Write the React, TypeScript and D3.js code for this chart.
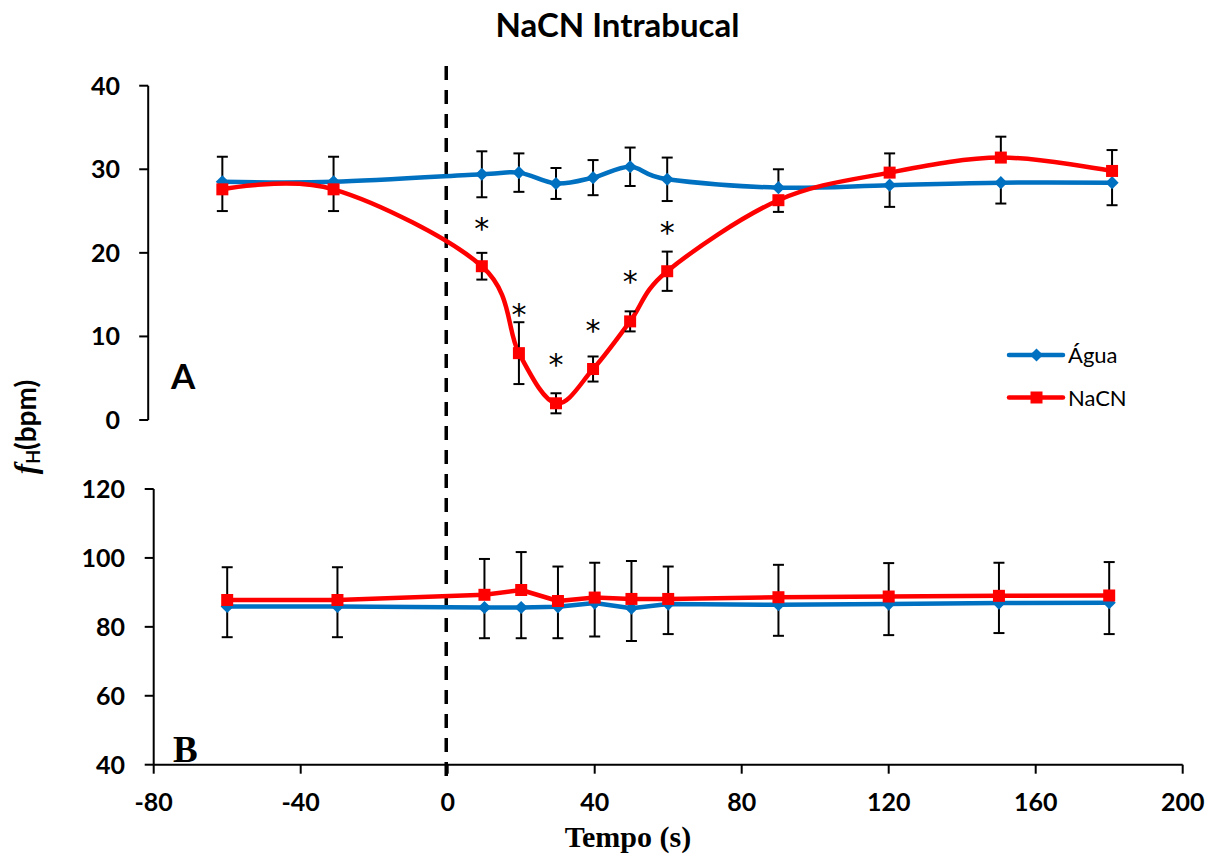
import React from "react";
import * as d3 from "d3";

// Sampling times (s) relative to the intrabuccal NaCN / water injection
const tempo = [-60, -30, 10, 20, 30, 40, 50, 60, 90, 120, 150, 180];

// Panel A: fH (bpm), mean and SE
const aguaA = [28.5, 28.5, 29.4, 29.6, 28.3, 29.0, 30.3, 28.8, 27.8, 28.1, 28.4, 28.4];
const aguaAErr = [3.0, 3.0, 2.75, 2.3, 1.85, 2.1, 2.3, 2.6, 2.2, 2.6, 2.5, 2.7];
const nacnA = [27.6, 27.6, 18.4, 8.0, 2.0, 6.1, 11.8, 17.8, 26.3, 29.6, 31.4, 29.8];
const nacnAErr = [2.6, 2.6, 1.6, 3.7, 1.2, 1.5, 1.2, 2.35, 1.4, 2.3, 2.5, 2.5];

// Significance marks (time, level in bpm) for panel A
const sigTempo = [10, 20, 30, 40, 50, 60];
const sigLevel = [23.7, 13.4, 7.4, 11.5, 17.3, 23.2];

// Panel B: fH (bpm), mean and SE
const aguaB = [85.9, 85.9, 85.6, 85.6, 85.8, 86.9, 85.4, 86.6, 86.4, 86.6, 86.9, 87.0];
const aguaBErr = [8.9, 8.9, 8.9, 8.9, 9.1, 9.7, 9.5, 8.7, 9.0, 9.0, 8.7, 9.1];
const nacnB = [87.8, 87.8, 89.3, 90.7, 87.5, 88.5, 88.1, 88.1, 88.6, 88.8, 89.0, 89.1];
const nacnBErr = [9.5, 9.5, 10.4, 11.0, 10.0, 10.1, 11.0, 9.4, 9.4, 9.7, 9.6, 9.7];

const xTicks = [-80, -40, 0, 40, 80, 120, 160, 200];
const yTicksA = [0, 10, 20, 30, 40];
const yTicksB = [40, 60, 80, 100, 120];

const BLUE = "#0070C0";
const RED = "#FF0000";
const SANS = "Lato, 'Open Sans', sans-serif";
const SERIF = "'Liberation Serif', 'DejaVu Serif', serif";

const xA = d3.scaleLinear().domain([-80, 200]).range([148.2, 1186.2]);
const xB = d3.scaleLinear().domain([-80, 200]).range([153.7, 1182.7]);
const yA = d3.scaleLinear().domain([0, 40]).range([420, 85.7]);
const yB = d3.scaleLinear().domain([40, 120]).range([764.7, 489]);

type Scale = d3.ScaleLinear<number, number>;

function SeriesLine({
  x, y, vals, color, smooth,
}: { x: Scale; y: Scale; vals: number[]; color: string; smooth: boolean }) {
  const pts: [number, number][] = tempo.map((t, i) => [x(t), y(vals[i])]);
  const line = d3
    .line()
    .curve(smooth ? d3.curveCardinal.tension(0) : d3.curveLinear)(pts) as string;
  return <path d={line} fill="none" stroke={color} strokeWidth={4.5} strokeLinejoin="round" />;
}

// Error bars; where a series' bar would overlap the other series' bar,
// only the half pointing away from the other series is drawn.
function ErrorBars({
  x, y, vals, errs, otherVals, otherErrs,
}: {
  x: Scale; y: Scale; vals: number[]; errs: number[]; otherVals: number[]; otherErrs: number[];
}) {
  return (
    <g stroke="#000" strokeWidth={2}>
      {tempo.map((t, i) => {
        const cx = x(t);
        const v = vals[i];
        const overlap = Math.abs(v - otherVals[i]) < errs[i] + otherErrs[i];
        const showUp = !overlap || v >= otherVals[i];
        const showDown = !overlap || v < otherVals[i];
        const yTop = y(v + errs[i]);
        const yBot = y(v - errs[i]);
        const yMid = y(v);
        return (
          <g key={i}>
            {showUp && (
              <>
                <line x1={cx} x2={cx} y1={yTop} y2={yMid} />
                <line x1={cx - 5.5} x2={cx + 5.5} y1={yTop} y2={yTop} />
              </>
            )}
            {showDown && (
              <>
                <line x1={cx} x2={cx} y1={yMid} y2={yBot} />
                <line x1={cx - 5.5} x2={cx + 5.5} y1={yBot} y2={yBot} />
              </>
            )}
          </g>
        );
      })}
    </g>
  );
}

function Markers({
  x, y, vals, color, shape,
}: { x: Scale; y: Scale; vals: number[]; color: string; shape: "diamond" | "square" }) {
  const sym = d3
    .symbol()
    .type(shape === "diamond" ? d3.symbolDiamond2 : d3.symbolSquare)
    .size(shape === "diamond" ? 110 : 144)() as string;
  return (
    <g fill={color}>
      {tempo.map((t, i) => (
        <path key={i} d={sym} transform={`translate(${x(t)},${y(vals[i])})`} />
      ))}
    </g>
  );
}

function YAxis({ x, y, ticks, labelX }: { x: number; y: Scale; ticks: number[]; labelX: number }) {
  const [lo, hi] = y.domain();
  return (
    <g>
      <line x1={x} x2={x} y1={y(lo)} y2={y(hi)} stroke="#000" strokeWidth={2} />
      {ticks.map((t) => (
        <g key={t}>
          <line x1={x - 9} x2={x} y1={y(t)} y2={y(t)} stroke="#000" strokeWidth={2} />
          <text
            x={labelX}
            y={y(t) + 9}
            textAnchor="end"
            fontFamily={SANS}
            fontWeight={700}
            fontSize={25}
            fill="#000"
          >
            {t}
          </text>
        </g>
      ))}
    </g>
  );
}

export default function App() {
  const zeroX = (xA(0) + xB(0)) / 2;
  const diamondLegend = d3.symbol().type(d3.symbolDiamond2).size(110)() as string;
  const squareLegend = d3.symbol().type(d3.symbolSquare).size(144)() as string;
  return (
    <svg
      width={1213}
      height={855}
      style={{ position: "absolute", left: 0, top: 0, background: "#fff" }}
    >
      <rect width={1213} height={855} fill="#fff" />

      {/* Title */}
      <text
        x={617.5}
        y={37}
        textAnchor="middle"
        fontFamily={SANS}
        fontWeight={700}
        fontSize={33}
        fill="#000"
      >
        NaCN Intrabucal
      </text>

      {/* Panel A */}
      <YAxis x={xA(-80)} y={yA} ticks={yTicksA} labelX={120} />
      <text x={171} y={389} fontFamily={SANS} fontWeight={700} fontSize={35} fill="#000">
        A
      </text>

      {/* Panel B */}
      <YAxis x={xB(-80)} y={yB} ticks={yTicksB} labelX={125} />
      <line x1={xB(-80)} x2={xB(200)} y1={yB(40)} y2={yB(40)} stroke="#000" strokeWidth={2} />
      {xTicks.map((t) => (
        <g key={t}>
          <line x1={xB(t)} x2={xB(t)} y1={yB(40)} y2={yB(40) + 9} stroke="#000" strokeWidth={2} />
          <text
            x={xB(t)}
            y={811}
            textAnchor="middle"
            fontFamily={SANS}
            fontWeight={700}
            fontSize={25}
            fill="#000"
          >
            {t}
          </text>
        </g>
      ))}
      <text x={173} y={762} fontFamily={SERIF} fontWeight={700} fontSize={37} fill="#000">
        B
      </text>

      {/* Injection time */}
      <line
        x1={zeroX}
        x2={zeroX}
        y1={66}
        y2={783}
        stroke="#000"
        strokeWidth={3.5}
        strokeDasharray="14 10"
      />

      {/* Panel A series */}
      <SeriesLine x={xA} y={yA} vals={aguaA} color={BLUE} smooth />
      <SeriesLine x={xA} y={yA} vals={nacnA} color={RED} smooth />
      <ErrorBars x={xA} y={yA} vals={aguaA} errs={aguaAErr} otherVals={nacnA} otherErrs={nacnAErr} />
      <ErrorBars x={xA} y={yA} vals={nacnA} errs={nacnAErr} otherVals={aguaA} otherErrs={aguaAErr} />
      <Markers x={xA} y={yA} vals={aguaA} color={BLUE} shape="diamond" />
      <Markers x={xA} y={yA} vals={nacnA} color={RED} shape="square" />
      {sigTempo.map((t, i) => (
        <text
          key={t}
          x={xA(t)}
          y={yA(sigLevel[i]) + 17}
          textAnchor="middle"
          fontFamily="'DejaVu Sans', sans-serif"
          fontSize={30}
          fill="#000"
        >
          *
        </text>
      ))}

      {/* Panel B series */}
      <SeriesLine x={xB} y={yB} vals={aguaB} color={BLUE} smooth={false} />
      <SeriesLine x={xB} y={yB} vals={nacnB} color={RED} smooth={false} />
      <ErrorBars x={xB} y={yB} vals={aguaB} errs={aguaBErr} otherVals={nacnB} otherErrs={nacnBErr} />
      <ErrorBars x={xB} y={yB} vals={nacnB} errs={nacnBErr} otherVals={aguaB} otherErrs={aguaBErr} />
      <Markers x={xB} y={yB} vals={aguaB} color={BLUE} shape="diamond" />
      <Markers x={xB} y={yB} vals={nacnB} color={RED} shape="square" />

      {/* Legend */}
      <g>
        <line x1={1009} x2={1063} y1={355} y2={355} stroke={BLUE} strokeWidth={4.5} strokeLinecap="round" />
        <path d={diamondLegend} transform="translate(1036.5,355)" fill={BLUE} />
        <text x={1068} y={363} fontFamily={SANS} fontSize={22} fill="#000">
          Água
        </text>
        <line x1={1009} x2={1063} y1={397.5} y2={397.5} stroke={RED} strokeWidth={4.5} strokeLinecap="round" />
        <path d={squareLegend} transform="translate(1036.5,397.5)" fill={RED} />
        <text x={1068} y={406} fontFamily={SANS} fontSize={22} fill="#000">
          NaCN
        </text>
      </g>

      {/* Axis titles */}
      <text
        transform="translate(36,427) rotate(-90)"
        textAnchor="middle"
        fontFamily={SANS}
        fontWeight={700}
        fontSize={28}
        fill="#000"
      >
        <tspan fontFamily={SERIF} fontStyle="italic" fontSize={31}>
          f
        </tspan>
        <tspan fontSize={18} dy={4}>
          H
        </tspan>
        <tspan dy={-4}>(bpm)</tspan>
      </text>
      <text
        x={628}
        y={847}
        textAnchor="middle"
        fontFamily={SERIF}
        fontWeight={700}
        fontSize={30}
        fill="#000"
      >
        Tempo (s)
      </text>
    </svg>
  );
}
